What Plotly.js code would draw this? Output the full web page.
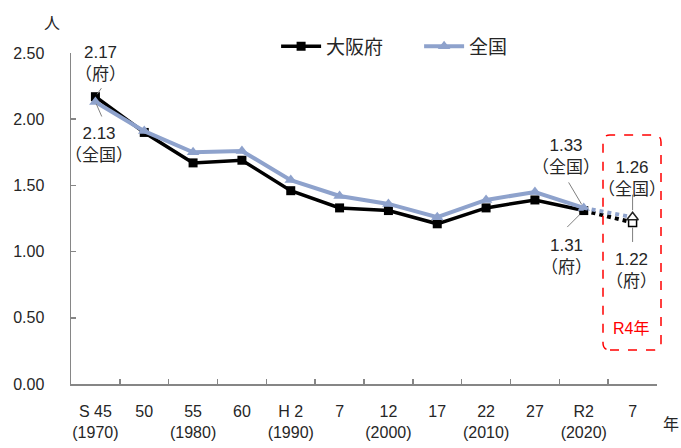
<!DOCTYPE html>
<html><head><meta charset="utf-8">
<script src="https://cdn.plot.ly/plotly-3.0.1.min.js"></script>
<style>html,body{margin:0;padding:0;background:#fff;}#chart{width:681px;height:448px;}</style>
</head><body><div id="chart"></div>
<script>
var categories = ['S45','S50','S55','S60','H2','H7','H12','H17','H22','H27','R2','R7'];
var tickLabels = ['S 45<br>(1970)','50','55<br>(1980)','60','H 2<br>(1990)','7','12<br>(2000)','17','22<br>(2010)','27','R2<br>(2020)','7'];
var osaka = [2.17, 1.90, 1.67, 1.69, 1.46, 1.33, 1.31, 1.21, 1.33, 1.39, 1.31, 1.22];
var national = [2.13, 1.91, 1.75, 1.76, 1.54, 1.42, 1.36, 1.26, 1.39, 1.45, 1.33, 1.26];
var osakaName = '大阪府';
var nationalName = '全国';

var numFont = 'Liberation Sans, Noto Sans CJK JP, sans-serif';
var cjkFont = 'Noto Sans CJK JP, sans-serif';
var blue = '#8EA2CC';
var nSolid = categories.length - 1;

var traces = [
  {x: categories.slice(0, nSolid), y: osaka.slice(0, nSolid), name: osakaName, mode: 'lines+markers',
   line: {color: '#000000', width: 3.5}, marker: {symbol: 'square', size: 9, color: '#000000'}},
  {x: categories.slice(0, nSolid), y: national.slice(0, nSolid), name: nationalName, mode: 'lines+markers',
   line: {color: blue, width: 4}, marker: {symbol: 'triangle-up', size: 11, color: blue}},
  {x: categories.slice(nSolid - 1), y: osaka.slice(nSolid - 1), mode: 'lines', showlegend: false,
   line: {color: '#000000', width: 4, dash: 'dot'}},
  {x: categories.slice(nSolid - 1), y: national.slice(nSolid - 1), mode: 'lines', showlegend: false,
   line: {color: blue, width: 4, dash: 'dot'}},
  {x: categories.slice(nSolid), y: osaka.slice(nSolid), mode: 'markers', showlegend: false,
   marker: {symbol: 'square', size: 8, color: '#ffffff', line: {color: '#000000', width: 1.5}}},
  {x: categories.slice(nSolid), y: national.slice(nSolid), mode: 'markers', showlegend: false,
   marker: {symbol: 'triangle-up', size: 10, color: '#ffffff', line: {color: '#222222', width: 1.5}}}
];

function label(xi, yv, txt, xs, ys) {
  return {x: categories[xi], y: yv, xref: 'x', yref: 'y', text: txt, showarrow: false,
    xanchor: 'center', yanchor: 'middle',
    xshift: xs, yshift: ys, font: {family: numFont, size: 17, color: '#262626'}, align: 'center'};
}
function leader(xi, yv, ax, ay, so) {
  return {x: categories[xi], y: yv, xref: 'x', yref: 'y', text: '', showarrow: true, arrowhead: 0,
    arrowwidth: 1, arrowcolor: '#7f7f7f', ax: ax, ay: ay, standoff: so};
}
function paperText(px, py, txt, col, fam) {
  return {xref: 'paper', yref: 'paper', x: (px - 71) / 586, y: (384 - py) / 331, text: txt,
    showarrow: false, xanchor: 'center', yanchor: 'middle',
    font: {family: fam, size: 16, color: col}};
}
var last = categories.length - 1;
var annotations = [
  label(0, osaka[0], osaka[0].toFixed(2) + '<br>（府）', 5, 33),
  leader(0, osaka[0], 7, -10, 3),
  label(0, national[0], national[0].toFixed(2) + '<br>（全国）', 4, -43),
  leader(0, national[0], 7, 16, 2),
  label(10, national[10], national[10].toFixed(2) + '<br>（全国）', -18, 51),
  leader(10, national[10], -16, -27, 4),
  label(10, osaka[10], osaka[10].toFixed(2) + '<br>（府）', -17, -46),
  leader(10, osaka[10], -18, 18, 6),
  label(last, national[last], national[last].toFixed(2) + '<br>（全国）', -1, 39),
  leader(last, national[last], 0, -24, 7),
  label(last, osaka[last], osaka[last].toFixed(2) + '<br>（府）', -1, -48),
  leader(last, osaka[last], 0, 21, 5),
  paperText(631, 328, 'R4年', '#ff0000', numFont),
  paperText(52, 22, '人', '#262626', cjkFont),
  paperText(671, 423, '年', '#262626', cjkFont)
];

// red dashed rounded box (paper coordinates)
var bx0 = (603 - 71) / 586, bx1 = (661 - 71) / 586, by0 = (384 - 350) / 331, by1 = (384 - 135) / 331;
var rx = 7 / 586, ry = 7 / 331;
var boxPath = 'M' + (bx0 + rx) + ',' + by0 + ' L' + (bx1 - rx) + ',' + by0 +
  ' Q' + bx1 + ',' + by0 + ' ' + bx1 + ',' + (by0 + ry) + ' L' + bx1 + ',' + (by1 - ry) +
  ' Q' + bx1 + ',' + by1 + ' ' + (bx1 - rx) + ',' + by1 + ' L' + (bx0 + rx) + ',' + by1 +
  ' Q' + bx0 + ',' + by1 + ' ' + bx0 + ',' + (by1 - ry) + ' L' + bx0 + ',' + (by0 + ry) +
  ' Q' + bx0 + ',' + by0 + ' ' + (bx0 + rx) + ',' + by0 + ' Z';

var layout = {
  width: 681, height: 448,
  margin: {l: 71, r: 24, t: 53, b: 64},
  paper_bgcolor: '#ffffff', plot_bgcolor: '#ffffff',
  showlegend: true,
  legend: {orientation: 'h', x: 0.35, xanchor: 'left', y: 1.02, yanchor: 'middle',
    font: {family: cjkFont, size: 19, color: '#262626'}, itemwidth: 40,
    entrywidth: 88, entrywidthmode: 'pixels', bgcolor: 'rgba(0,0,0,0)'},
  xaxis: {type: 'category', categoryorder: 'array', categoryarray: categories,
    tickvals: categories, ticktext: tickLabels, tickson: 'boundaries', tickangle: 0,
    ticks: 'inside', ticklen: 5, tickcolor: '#868686', tickwidth: 1.5,
    showline: true, linecolor: '#868686', linewidth: 1.5, showgrid: false, zeroline: false,
    range: [-0.5, categories.length - 0.5], fixedrange: true,
    tickfont: {family: numFont, size: 16, color: '#262626'}, ticklabelstandoff: 12},
  yaxis: {range: [0, 2.5], tickvals: [0, 0.5, 1, 1.5, 2, 2.5], tickformat: '.2f',
    ticks: 'inside', ticklen: 5, tickcolor: '#868686', tickwidth: 1.5,
    showline: true, linecolor: '#868686', linewidth: 1.5, showgrid: false, zeroline: false,
    tickfont: {family: numFont, size: 16, color: '#262626'}, ticklabelstandoff: 22},
  annotations: annotations,
  shapes: [{type: 'path', xref: 'paper', yref: 'paper', path: boxPath,
    line: {color: '#ff0000', width: 1.5, dash: 'dash'}, fillcolor: 'rgba(0,0,0,0)'}]
};
Plotly.newPlot('chart', traces, layout, {staticPlot: true, displayModeBar: false});
</script></body></html>
